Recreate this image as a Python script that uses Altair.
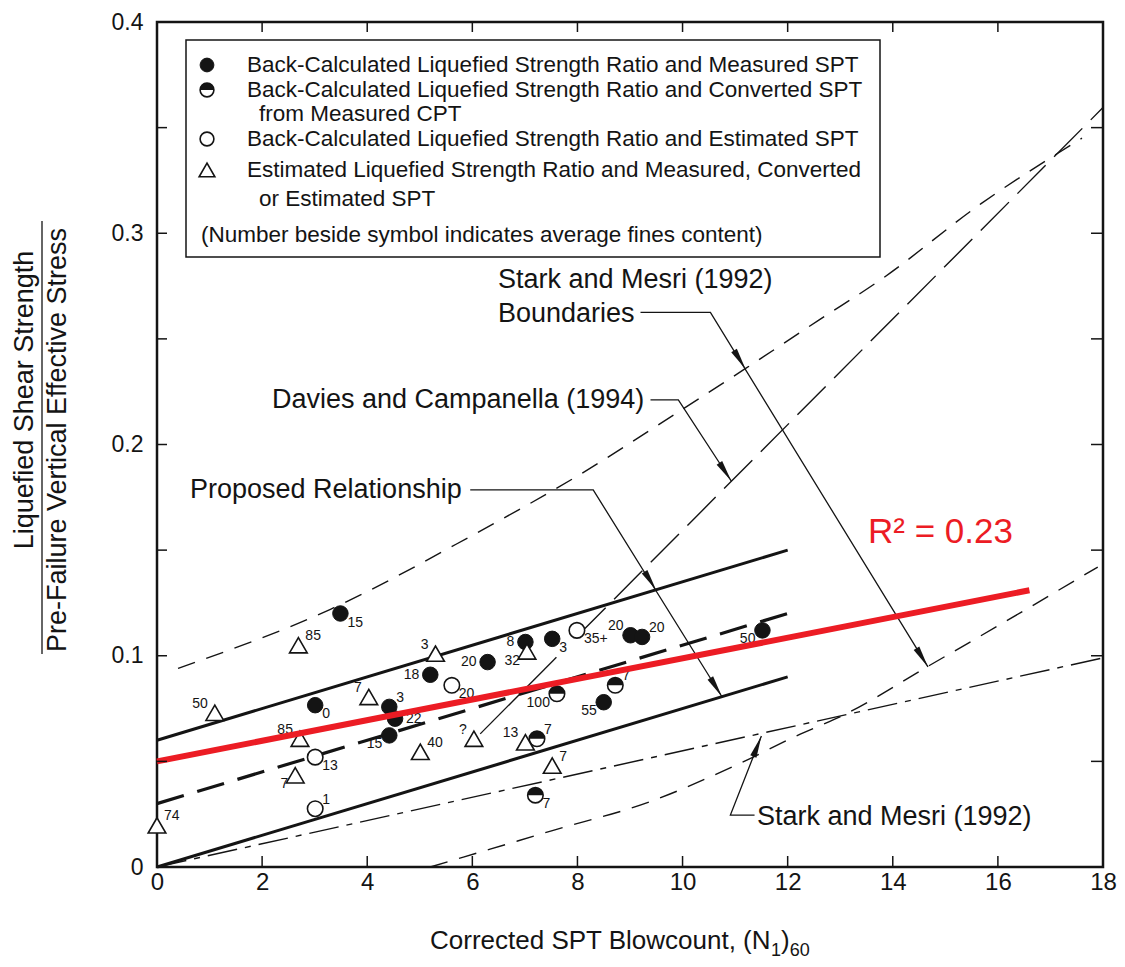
import math
import pandas as pd
import altair as alt

# ---------------- data ----------------
# Proposed relationship (three straight lines) : x endpoints and y endpoints
prop_x = [0, 12]
prop_upper = [0.06, 0.15]
prop_mid = [0.03, 0.12]
prop_lower = [0.0, 0.09]
# red regression line
fit_x = [0, 16.6]
fit_y = [0.05, 0.131]
# Stark and Mesri (1992) relationship
sm_x = [0, 18]
sm_y = [0.0, 0.099]
# Stark and Mesri (1992) boundaries
ub_x = [0.4, 3.3, 6.0, 8.06, 9.83, 11.2, 12.6, 13.77, 15.68, 17.6]
ub_y = [0.094, 0.122, 0.157, 0.186, 0.214, 0.236, 0.259, 0.278, 0.314, 0.345]
lb_x = [5.2, 5.83, 6.86, 7.49, 9.39, 11.0, 12.25, 13.07, 14.67, 16.06, 17.9]
lb_y = [0.0, 0.0047, 0.0123, 0.017, 0.031, 0.048, 0.063, 0.072, 0.095, 0.115, 0.142]
# Davies and Campanella (1994)
dc1_x = [6.15, 7.6]
dc1_y = [0.063, 0.0993]
dc2_x = [8.0, 18.0]
dc2_y = [0.1093, 0.3595]

# case histories
pt_x = [3.49, 2.69, 5.30, 6.29, 5.20, 5.61, 1.10, 3.01, 4.03, 4.42, 4.53, 4.42, 2.72,
        3.01, 2.63, 5.01, 6.03, 3.01, 0.0, 7.04, 7.01, 7.52, 7.99, 9.01, 9.23, 11.52,
        8.72, 7.61, 8.50, 7.23, 7.01, 7.52, 7.20]
pt_y = [0.120, 0.105, 0.101, 0.097, 0.091, 0.086, 0.073, 0.0766, 0.0805, 0.0758, 0.0702,
        0.0623, 0.0607, 0.052, 0.0434, 0.0545, 0.0607, 0.0276, 0.0197, 0.102, 0.1065,
        0.108, 0.112, 0.1097, 0.1089, 0.112, 0.086, 0.082, 0.078, 0.0607, 0.059, 0.048, 0.034]
pt_kind = ["filled", "tri", "tri", "filled", "filled", "open", "tri", "filled", "tri", "filled",
           "filled", "filled", "tri", "open", "tri", "tri", "tri", "open", "tri", "tri",
           "filled", "filled", "open", "filled", "filled", "filled", "half", "half", "filled",
           "half", "tri", "tri", "half"]
pt_label = ["15", "85", "3", "20", "18", "20", "50", "0", "7", "3", "22", "15", "85", "13", "7",
            "40", "?", "1", "74", "32", "8", "3", "35+", "20", "20", "50", "7", "100", "55", "7",
            "13", "7", "7"]
pt_pos = ["lr", "ur", "ul", "l", "l", "lr", "ul", "lr", "ul", "ur", "r", "ll", "ul", "lr", "ll",
          "ur", "ul", "ur", "ur", "ll", "l", "lr", "lr", "ul", "ur", "ll", "ur", "ll", "ll", "ur",
          "ul", "ur", "lr"]

xtick_vals = [0, 2, 4, 6, 8, 10, 12, 14, 16, 18]
ytick_vals = [0, 0.05, 0.1, 0.15, 0.2, 0.25, 0.3, 0.35, 0.4]
ylabel_vals = [0, 0.1, 0.2, 0.3, 0.4]

legend_kinds = ["filled", "half", None, "open", "tri", None, None]
legend_text = [
    "Back-Calculated Liquefied Strength Ratio and Measured SPT",
    "Back-Calculated Liquefied Strength Ratio and Converted SPT",
    "from Measured CPT",
    "Back-Calculated Liquefied Strength Ratio and Estimated SPT",
    "Estimated Liquefied Strength Ratio and Measured, Converted",
    "or Estimated SPT",
    "(Number beside symbol indicates average fines content)",
]

# x-axis title pieces: (text, is_subscript)
xtitle_parts = [("Corrected SPT Blowcount, (N", False), ("1", True), (")", False), ("60", True)]

# annotation leaders (data coordinates)
leaders = {
    "bnd": ([9.2, 10.53, 14.67], [0.2625, 0.2625, 0.0947]),
    "dc": ([9.39, 9.92, 10.93], [0.2211, 0.2211, 0.1826]),
    "prop": ([5.96, 8.30, 10.75], [0.1785, 0.1785, 0.0806]),
    "sm": ([11.37, 10.91, 11.5], [0.0246, 0.0246, 0.062]),
}
arrows = [  # tip x, tip y, from x, from y
    (11.2, 0.2356, 10.53, 0.2625),
    (14.67, 0.0947, 10.53, 0.2625),
    (10.93, 0.1826, 9.92, 0.2211),
    (9.5, 0.131, 8.30, 0.1785),
    (10.75, 0.0806, 8.30, 0.1785),
    (11.5, 0.062, 10.91, 0.0246),
]

# ---------------- layout helpers ----------------
W, H = 946, 845
XMAX, YMAX = 18.0, 0.4
SX, SY = W / XMAX, H / YMAX
INK = "#141414"
RED = "#ec1c24"
FONT = "Liberation Sans, Arial, sans-serif"
HALF = "M-1,0A1,1,0,0,1,1,0Z"
ARROW = "M0,-1L0.3,1L-0.3,1Z"

# Arial/Liberation Sans advance widths (1/1000 em) for the x title
ADV = {"C": 722, "o": 556, "r": 333, "e": 556, "c": 500, "t": 278, "d": 556, " ": 278,
       "S": 667, "P": 667, "T": 611, "B": 667, "l": 222, "w": 722, "u": 556, "n": 556,
       ",": 278, "(": 333, "N": 722, ")": 333, "1": 556, "6": 556, "0": 556}


def px2x(px):
    return px / SX


def py2y(py):
    return YMAX - py / SY


xs = alt.Scale(domain=[0, XMAX], nice=False, zero=False)
ys = alt.Scale(domain=[0, YMAX], nice=False, zero=False)
x_axis = alt.Axis(values=xtick_vals, ticks=False, domain=False, grid=False, title=None,
                  labelFontSize=24, labelFont=FONT, labelColor=INK, labelPadding=3,
                  labelFlush=False, format="d")
y_axis = alt.Axis(values=ylabel_vals, ticks=False, domain=False, grid=False, title=None,
                  labelFontSize=23, labelFont=FONT, labelColor=INK, labelPadding=14,
                  labelFlush=False,
                  labelExpr="datum.value == 0 ? '0' : format(datum.value, '.1f')")


def exy():
    return dict(x=alt.X("x:Q", scale=xs, axis=x_axis), y=alt.Y("y:Q", scale=ys, axis=y_axis))


def line_layer(xv, yv, dash=None, width=1.5, color=INK, interp="linear"):
    df = pd.DataFrame({"x": xv, "y": yv, "i": list(range(len(xv)))})
    kw = dict(color=color, strokeWidth=width, interpolate=interp, clip=False)
    if dash:
        kw["strokeDash"] = dash
    return alt.Chart(df).mark_line(**kw).encode(order="i:Q", **exy())


def text_layer(rows, size, align="left", color=INK, font=FONT, angle=None, baseline="middle"):
    df = pd.DataFrame(rows, columns=["x", "y", "t"])
    kw = dict(align=align, baseline=baseline, fontSize=size, font=font, color=color)
    if angle is not None:
        kw["angle"] = angle
    return alt.Chart(df).mark_text(**kw).encode(text="t:N", **exy())


def sym_layer(df, kind, size):
    if kind == "filled":
        return alt.Chart(df).mark_point(shape="circle", filled=True, fill=INK, stroke=INK,
                                        strokeWidth=1, size=size, opacity=1).encode(**exy())
    if kind == "open":
        return alt.Chart(df).mark_point(shape="circle", filled=True, fill="white", stroke=INK,
                                        strokeWidth=1.6, size=size, opacity=1).encode(**exy())
    if kind == "half":
        return alt.layer(
            alt.Chart(df).mark_point(shape="circle", filled=True, fill="white", stroke=INK,
                                     strokeWidth=1.6, size=size, opacity=1).encode(**exy()),
            alt.Chart(df).mark_point(shape=HALF, filled=True, fill=INK, size=size,
                                     opacity=1).encode(**exy()),
        )
    return alt.Chart(df).mark_point(shape="triangle-up", filled=True, fill="white", stroke=INK,
                                    strokeWidth=1.6, size=size * 1.3, opacity=1).encode(**exy())


layers = []

# reference lines
layers.append(line_layer(ub_x, ub_y, dash=[18, 12], width=1.4, interp="monotone"))
layers.append(line_layer(lb_x, lb_y, dash=[18, 12], width=1.4, interp="monotone"))
layers.append(line_layer(sm_x, sm_y, dash=[30, 8, 6, 8], width=1.4))
layers.append(line_layer(dc1_x, dc1_y, width=1.3))
layers.append(line_layer(dc2_x, dc2_y, dash=[40, 12], width=1.4))
layers.append(line_layer(prop_x, prop_upper, width=3))
layers.append(line_layer(prop_x, prop_lower, width=3))
layers.append(line_layer(prop_x, prop_mid, dash=[28, 14], width=3.2))

# leaders and arrowheads
for name, (lx, ly) in leaders.items():
    layers.append(line_layer(lx, ly, width=1.3))
ah = []
for tx, ty, fx, fy in arrows:
    vx = (tx - fx) * SX
    vy = -(ty - fy) * SY
    L = math.hypot(vx, vy)
    ux, uy = vx / L, vy / L
    ang = math.degrees(math.atan2(ux, -uy)) % 360
    ah.append({"x": tx - 11 * ux / SX, "y": ty + 11 * uy / SY, "a": ang})
layers.append(
    alt.Chart(pd.DataFrame(ah)).mark_point(shape=ARROW, filled=True, fill=INK, size=484, opacity=1)
    .encode(angle=alt.Angle("a:Q", scale=None), **exy())
)

# data points
pts = pd.DataFrame({"x": pt_x, "y": pt_y, "k": pt_kind})
for kind in ["filled", "open", "half", "tri"]:
    layers.append(sym_layer(pts[pts.k == kind][["x", "y"]], kind, 240))

# point labels
OFF = {"ur": (7, -9, "left"), "ul": (-7, -9, "right"), "lr": (7, 9, "left"),
       "ll": (-7, 9, "right"), "l": (-11, 0, "right"), "r": (11, 0, "left")}
lab_left, lab_right = [], []
for x, y, lab, pos in zip(pt_x, pt_y, pt_label, pt_pos):
    dx, dy, al = OFF[pos]
    row = (x + dx / SX, y - dy / SY, lab)
    (lab_left if al == "left" else lab_right).append(row)
layers.append(text_layer(lab_left, 14, "left"))
layers.append(text_layer(lab_right, 14, "right"))

# regression line
layers.append(line_layer(fit_x, fit_y, width=6, color=RED))

# legend box
box = pd.DataFrame({"x": [px2x(29)], "x2": [px2x(723)], "y": [py2y(18)], "y2": [py2y(235)]})
layers.append(
    alt.Chart(box).mark_rect(fill="white", stroke=INK, strokeWidth=1.5).encode(
        x=alt.X("x:Q", scale=xs, axis=x_axis), x2="x2:Q",
        y=alt.Y("y:Q", scale=ys, axis=y_axis), y2="y2:Q")
)
leg_py = [43, 68, 92, 117, 148, 177, 213]
leg_px = [90, 90, 102, 90, 90, 102, 44]
for kind, py in zip(legend_kinds, leg_py):
    if kind:
        layers.append(sym_layer(pd.DataFrame({"x": [px2x(50)], "y": [py2y(py)]}), kind, 190))
layers.append(text_layer([(px2x(px), py2y(py), t) for px, py, t in zip(leg_px, leg_py, legend_text)],
                         22.5, "left"))

# annotation texts
ann = [
    (px2x(341), py2y(258), "Stark and Mesri (1992)"),
    (px2x(341), py2y(292), "Boundaries"),
    (px2x(115), py2y(378), "Davies and Campanella (1994)"),
    (px2x(33), py2y(468), "Proposed Relationship"),
    (px2x(600), py2y(795), "Stark and Mesri (1992)"),
]
layers.append(text_layer(ann, 27, "left"))
layers.append(text_layer([(px2x(711), py2y(510), "R² = 0.23")], 35, "left", color=RED))

# x-axis title with subscripts (pieces placed one after another)
cur = 273.0
main_rows, sub_rows = [], []
for txt, sub in xtitle_parts:
    fs = 18 if sub else 26
    if sub:
        sub_rows.append((px2x(cur), py2y(934), txt))
    else:
        main_rows.append((px2x(cur), py2y(927), txt))
    cur += sum(ADV[c] for c in txt) / 1000.0 * fs
layers.append(text_layer(main_rows, 26, "left", baseline="alphabetic"))
layers.append(text_layer(sub_rows, 18, "left", baseline="alphabetic"))

# y-axis title (ratio)
layers.append(text_layer([(px2x(-132), py2y(378), "Liquefied Shear Strength"),
                          (px2x(-99), py2y(418), "Pre-Failure Vertical Effective Stress")],
                         27, "center", angle=270))
layers.append(line_layer([px2x(-115), px2x(-115)], [py2y(199), py2y(632)], width=1.3))

# frame ticks (axis labels come from the shared axes)
xt = pd.DataFrame({"x": xtick_vals})
yt = pd.DataFrame({"y": ytick_vals})
layers.append(alt.Chart(xt).mark_rule(color=INK, strokeWidth=1.5).encode(
    x=alt.X("x:Q", scale=xs, axis=x_axis), y=alt.value(H), y2=alt.value(H - 11)))
layers.append(alt.Chart(xt).mark_rule(color=INK, strokeWidth=1.5).encode(
    x=alt.X("x:Q", scale=xs, axis=x_axis), y=alt.value(0), y2=alt.value(10)))
layers.append(alt.Chart(yt).mark_rule(color=INK, strokeWidth=1.5).encode(
    y=alt.Y("y:Q", scale=ys, axis=y_axis), x=alt.value(0), x2=alt.value(10)))
layers.append(alt.Chart(yt).mark_rule(color=INK, strokeWidth=1.5).encode(
    y=alt.Y("y:Q", scale=ys, axis=y_axis), x=alt.value(W - 12), x2=alt.value(W)))

chart = alt.layer(*layers).properties(
    width=W, height=H,
    autosize=alt.AutoSizeParams(type="none"),
    padding={"left": 149, "top": 14, "right": 14, "bottom": 92},
    background="white",
).configure_view(stroke=INK, strokeWidth=2.5)

chart.save("out.html", embed_options={"renderer": "svg", "actions": False})
